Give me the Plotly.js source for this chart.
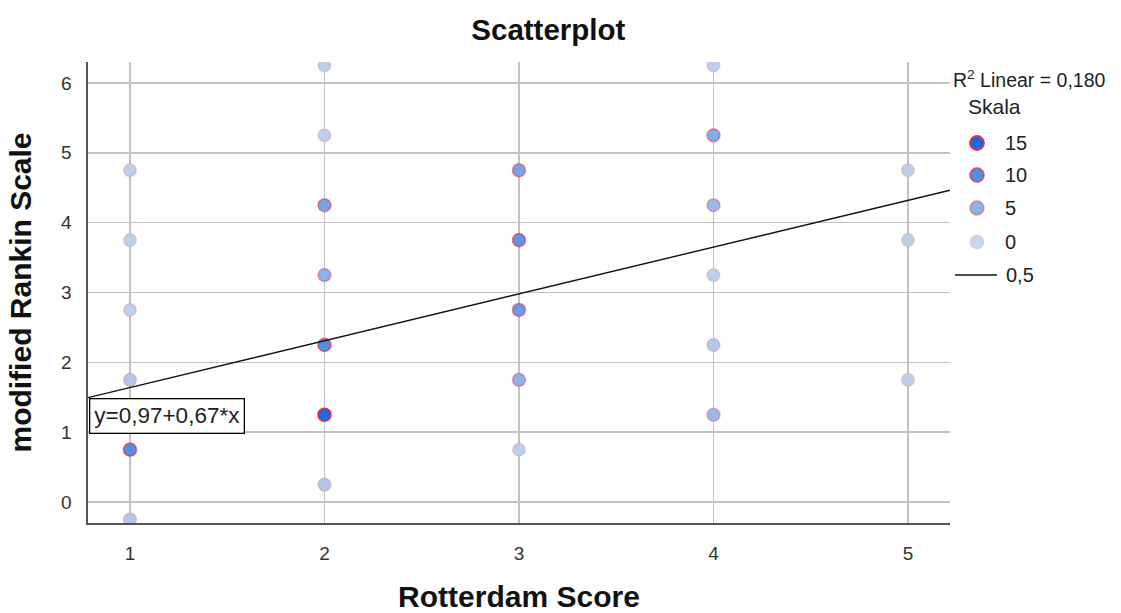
<!DOCTYPE html>
<html><head><meta charset="utf-8">
<script src="https://cdn.plot.ly/plotly-3.0.1.min.js"></script>
<style>html,body{margin:0;padding:0;background:#fff}#chart{width:1121px;height:613px}</style>
</head><body><div id="chart"></div>
<script>
// Data
const rotterdam = [1,1,1,1,1,1, 2,2,2,2,2,2,2, 3,3,3,3,3, 4,4,4,4,4,4, 5,5,5];
const rankin    = [4.75,3.75,2.75,1.75,0.75,-0.25, 6.25,5.25,4.25,3.25,2.25,1.25,0.25, 4.75,3.75,2.75,1.75,0.75, 6.25,5.25,4.25,3.25,2.25,1.25, 4.75,3.75,1.75];
const counts    = [1,1,1,2,10,2, 1,1,7,5,10,15,2, 7,9,8,5,1, 1,6,4,1,2,4, 1,1,1];
const legendValues = [15,10,5,0];
const fitIntercept = 0.97, fitSlope = 0.67;
const r2Text = "R<sup>2</sup> Linear = 0,180";
const eqText = "y=0,97+0,67*x";
const xTicks = [1,2,3,4,5];
const yTicks = [0,1,2,3,4,5,6];

// colour mapping (style)
function lerp(a,b,t){return Math.round(a+(b-a)*t);}
function fillFor(v){const t=Math.max(0,Math.min(1,v/15));const lo=[200,214,234],hi=[22,106,226];return `rgb(${lerp(lo[0],hi[0],t)},${lerp(lo[1],hi[1],t)},${lerp(lo[2],hi[2],t)})`;}
function lineFor(v){const t=Math.max(0,Math.min(1,v/15));return `rgba(236,40,60,${(0.06+0.89*t).toFixed(2)})`;}

const xr=[0.784,5.216];
const fitX=[xr[0],xr[1]];
const fitY=fitX.map(x=>fitIntercept+fitSlope*x);

const legY=[143,175,208,242];
const traces=[
 {x:rotterdam,y:rankin,type:'scatter',mode:'markers',hoverinfo:'x+y',
  marker:{size:13,color:counts.map(fillFor),line:{width:1.6,color:counts.map(lineFor)}},showlegend:false},
 {x:fitX,y:fitY,type:'scatter',mode:'lines',line:{color:'#111',width:1.4},showlegend:false,hoverinfo:'skip'},
 {x:legendValues.map(()=>977),y:legY,xaxis:'x2',yaxis:'y2',type:'scatter',mode:'markers',
  marker:{size:14,color:legendValues.map(fillFor),line:{width:1.8,color:legendValues.map(lineFor)}},showlegend:false,hoverinfo:'skip'},
 {x:[955,997],y:[275,275],xaxis:'x2',yaxis:'y2',type:'scatter',mode:'lines',line:{color:'#111',width:1.4},showlegend:false,hoverinfo:'skip'}
];

const fam='Liberation Sans, Arial, sans-serif';
const txtFont={family:fam,size:20,color:'#222'};
const ann=[
 {xref:'x2',yref:'y2',x:951,y:79,text:r2Text,showarrow:false,xanchor:'left',yanchor:'middle',font:{family:fam,size:19.5,color:'#222'}},
 {xref:'x2',yref:'y2',x:966,y:106,text:'Skala',showarrow:false,xanchor:'left',yanchor:'middle',font:{family:fam,size:21,color:'#222'}},
 {xref:'x',yref:'y',x:0.79,y:1.225,text:eqText,showarrow:false,xanchor:'left',yanchor:'middle',
  font:{family:fam,size:22.5,color:'#222'},bgcolor:'#fff',bordercolor:'#000',borderwidth:1.3,borderpad:4}
];
legendValues.forEach((v,i)=>ann.push({xref:'x2',yref:'y2',x:1003,y:legY[i],text:String(v),showarrow:false,xanchor:'left',yanchor:'middle',font:txtFont}));
ann.push({xref:'x2',yref:'y2',x:1004,y:275,text:'0,5',showarrow:false,xanchor:'left',yanchor:'middle',font:txtFont});

const layout={
 width:1121,height:613,margin:{l:88,r:10,t:62,b:90},
 paper_bgcolor:'#fff',plot_bgcolor:'rgba(0,0,0,0)',
 font:{family:fam,color:'#222'},
 title:{text:'<b>Scatterplot</b>',x:0.45,xref:'paper',xanchor:'center',y:0.951,yanchor:'middle',font:{size:29.5,color:'#111'}},
 xaxis:{domain:[0,0.8426],range:xr,tickvals:xTicks,ticktext:xTicks.map(String),showgrid:true,gridcolor:'#c2c2c2',gridwidth:1.6,
   zeroline:false,showline:true,linecolor:'#555',linewidth:1.6,ticks:'',ticklabelstandoff:13,tickfont:{size:19,color:'#333'},
   title:{text:'<b>Rotterdam Score</b>',font:{size:30,color:'#111'},standoff:26}},
 yaxis:{range:[-0.30,6.30],tickvals:yTicks,showgrid:true,gridcolor:'#c2c2c2',gridwidth:1.6,zeroline:false,
   showline:true,linecolor:'#555',linewidth:1.6,ticks:'',ticklabelstandoff:11,tickfont:{size:19,color:'#333'},
   title:{text:'<b>modified Rankin Scale</b>',font:{size:30,color:'#111'},standoff:20}},
 xaxis2:{domain:[0.83,1],range:[937.1,1111],visible:false,fixedrange:true,showgrid:false},
 yaxis2:{domain:[0,1],range:[523,62],visible:false,fixedrange:true,anchor:'x2',showgrid:false},
 annotations:ann,showlegend:false
};
Plotly.newPlot('chart',traces,layout,{displayModeBar:false,staticPlot:true});
</script></body></html>
